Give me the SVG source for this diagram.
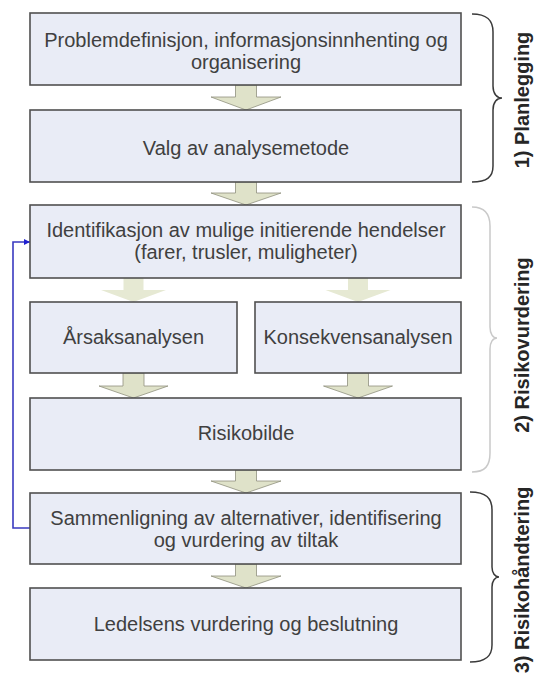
<svg xmlns="http://www.w3.org/2000/svg" width="534" height="673" viewBox="0 0 534 673">
<defs>
<style>
.box{fill:#e9ecf6;stroke:#505050;stroke-width:1.6}
.t{font-family:"Liberation Sans",Arial,sans-serif;font-size:20px;fill:#404040;text-anchor:middle}
.arr{fill:#dfe2c9;stroke:#8f907e;stroke-width:0.8}
.arrl{fill:#e6e9d3;stroke:none}
.brace{fill:none;stroke:#3a3a3a;stroke-width:1.5}
.bracel{fill:none;stroke:#c9c9c9;stroke-width:1.5}
.lbl{font-family:"Liberation Sans",Arial,sans-serif;font-size:20px;font-weight:bold;fill:#262626;text-anchor:middle}
.fb{fill:none;stroke:#3a3ac0;stroke-width:1.6}
</style>
<marker id="ah" viewBox="0 0 10 10" refX="10" refY="5" markerWidth="6" markerHeight="6" orient="auto" markerUnits="userSpaceOnUse">
<path d="M0,0 L10,5 L0,10 z" fill="#2020d0"/>
</marker>
</defs>
<rect width="534" height="673" fill="#ffffff"/>

<g id="connectors">
<path class="arr" d="M235.5,85 H256.5 V97 H281 L246,110 L211,97 H235.5 Z"/>
<path class="arr" d="M235.5,182 H256.5 V193 H281 L246,205 L211,193 H235.5 Z"/>
<path class="arrl" d="M123.5,278 H143.5 V290 H166 L133.5,302 L101,290 H123.5 Z"/>
<path class="arrl" d="M348,278 H368 V290 H390.5 L358,302 L325.5,290 H348 Z"/>
<path class="arr" d="M123,373 H144 V386 H168 L133.5,398 L99,386 H123 Z"/>
<path class="arr" d="M347.5,373 H368.5 V386 H392.5 L358,398 L323.5,386 H347.5 Z"/>
<path class="arr" d="M235.5,470 H256.5 V481 H281 L246,493 L211,481 H235.5 Z"/>
<path class="arr" d="M235.5,564 H256.5 V576 H281 L246,588 L211,576 H235.5 Z"/>
<path class="fb" d="M30,528 H13 V242 H30" marker-end="url(#ah)"/>
</g>

<g id="n1">
<rect class="box" x="30" y="13" width="431" height="72"/>
<text class="t" x="246" y="47">Problemdefinisjon, informasjonsinnhenting og</text>
<text class="t" x="246" y="69">organisering</text>
</g>
<g id="n2">
<rect class="box" x="30" y="110" width="431" height="72"/>
<text class="t" x="246" y="155">Valg av analysemetode</text>
</g>
<g id="n3">
<rect class="box" x="30" y="205" width="431" height="73"/>
<text class="t" x="246" y="237">Identifikasjon av mulige initierende hendelser</text>
<text class="t" x="246" y="259">(farer, trusler, muligheter)</text>
</g>
<g id="n4">
<rect class="box" x="30" y="302" width="207" height="71"/>
<text class="t" x="133.5" y="344">Årsaksanalysen</text>
</g>
<g id="n5">
<rect class="box" x="255" y="302" width="206" height="71"/>
<text class="t" x="358" y="344">Konsekvensanalysen</text>
</g>
<g id="n6">
<rect class="box" x="30" y="398" width="431" height="72"/>
<text class="t" x="246" y="440">Risikobilde</text>
</g>
<g id="n7">
<rect class="box" x="30" y="493" width="431" height="71"/>
<text class="t" x="246" y="525">Sammenligning av alternativer, identifisering</text>
<text class="t" x="246" y="547">og vurdering av tiltak</text>
</g>
<g id="n8">
<rect class="box" x="30" y="588" width="431" height="72"/>
<text class="t" x="246" y="631">Ledelsens vurdering og beslutning</text>
</g>

<g id="phase1">
<path class="brace" d="M472,14 C487,14 493,20 493,32 L493,86 C493,94 497,98 502,98 C497,98 493,102 493,110 L493,166 C493,177 487,182 472,182"/>
<text class="lbl" transform="translate(529,100) rotate(-90)">1) Planlegging</text>
</g>
<g id="phase2">
<path class="bracel" d="M472,207 C485,207 490,214 490,226 L490,327 C490,334 493,338 497,338 C493,338 490,342 490,349 L490,453 C490,466 485,472 472,472"/>
<text class="lbl" transform="translate(529,345) rotate(-90)">2) Risikovurdering</text>
</g>
<g id="phase3">
<path class="brace" d="M470,492 C486,492 492,498 492,510 L492,567 C492,573 495,577 499,577 C495,577 492,581 492,587 L492,645 C492,656 486,662 470,662"/>
<text class="lbl" transform="translate(529,580) rotate(-90)">3) Risikohåndtering</text>
</g>
</svg>
